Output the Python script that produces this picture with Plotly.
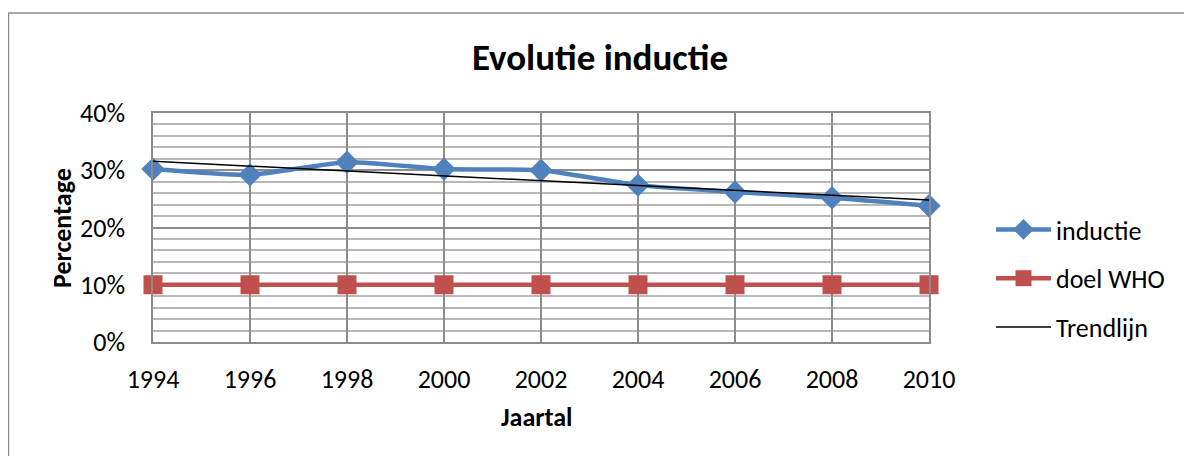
import numpy as np
import plotly.graph_objects as go

years = [1994, 1996, 1998, 2000, 2002, 2004, 2006, 2008, 2010]
inductie = [0.302, 0.292, 0.314, 0.302, 0.300, 0.274, 0.262, 0.252, 0.238]
doel_who = [0.10] * len(years)
y_ticks = [0, 0.1, 0.2, 0.3, 0.4]
y_ticklabels = ["0%", "10%", "20%", "30%", "40%"]

coef = np.polyfit(years, inductie, 1)
trend = np.polyval(coef, years)

FONT = "Carlito, Lato, sans-serif"
BLUE = "#4F81BD"
RED = "#C0504D"
GRID = "#8C8C8C"

# page body has an 8px margin; work in figure coordinates
W, H = 1184, 448
PL, PR, PT, PB = 145, 921, 105, 334
pw, ph = PR - PL, PB - PT

fig = go.Figure()
fig.add_trace(go.Scatter(
    x=years, y=inductie, name="inductie", mode="lines+markers", legendgroup="a",
    line=dict(color=BLUE, width=4.5, shape="spline", smoothing=0.6),
    marker=dict(symbol="diamond", size=18, color=BLUE),
    cliponaxis=False,
))
fig.add_trace(go.Scatter(
    x=years, y=doel_who, name="doel WHO", mode="lines+markers", legendgroup="b",
    line=dict(color=RED, width=4.5),
    marker=dict(symbol="square", size=19, color=RED),
    cliponaxis=False,
))
fig.add_trace(go.Scatter(
    x=years, y=trend, name="Trendlijn", mode="lines", legendgroup="c",
    line=dict(color="black", width=1.5),
    cliponaxis=False,
))

fig.update_layout(
    width=W, height=H,
    margin=dict(l=PL, r=W - PR, t=PT, b=H - PB),
    paper_bgcolor="white", plot_bgcolor="white",
    font=dict(family=FONT, size=26, color="black"),
    title=dict(text="<b>Evolutie inductie</b>", x=0.5, xref="container",
               xanchor="center", y=1 - 49 / H, yanchor="middle",
               font=dict(size=37, family=FONT)),
    showlegend=True,
    legend=dict(x=(983 - PL) / pw, y=(PB - 198) / ph, xanchor="left", yanchor="top",
                font=dict(size=26, family=FONT), tracegroupgap=12,
                itemwidth=55, bgcolor="rgba(0,0,0,0)"),
    xaxis=dict(
        range=[1994, 2010], tickmode="array", tickvals=years,
        ticktext=[str(y) for y in years],
        showgrid=True, gridcolor=GRID, gridwidth=1.5,
        showline=True, linecolor=GRID, linewidth=1.5, mirror=True,
        ticks="", ticklabelstandoff=13, zeroline=False,
    ),
    yaxis=dict(
        range=[0, 0.4], tickmode="array", tickvals=y_ticks, ticktext=y_ticklabels,
        showgrid=True, gridcolor=GRID, gridwidth=1.5,
        minor=dict(dtick=0.02, showgrid=True, gridcolor="#B8B8B8", gridwidth=1.5),
        showline=True, linecolor=GRID, linewidth=1.5, mirror=True,
        ticks="", ticklabelstandoff=21, zeroline=False,
    ),
    annotations=[
        dict(text="<b>Jaartal</b>", xref="paper", yref="paper",
             x=(537 - 8 - PL) / pw, y=(PB - (417 - 8)) / ph,
             xanchor="center", yanchor="middle", showarrow=False,
             font=dict(size=26, family=FONT)),
        dict(text="<b>Percentage</b>", xref="paper", yref="paper",
             x=(62 - 8 - PL) / pw, y=(PB - (228 - 8)) / ph, textangle=-90,
             xanchor="center", yanchor="middle", showarrow=False,
             font=dict(size=26, family=FONT)),
    ],
    shapes=[dict(type="rect", xref="paper", yref="paper",
                 x0=(0.5 - PL) / pw, x1=(1183 - PL) / pw,
                 y0=(PB - 470) / ph, y1=(PB - 5) / ph,
                 line=dict(color=GRID, width=1.5), fillcolor="rgba(0,0,0,0)",
                 layer="below")],
)

fig.write_html("out.html")
